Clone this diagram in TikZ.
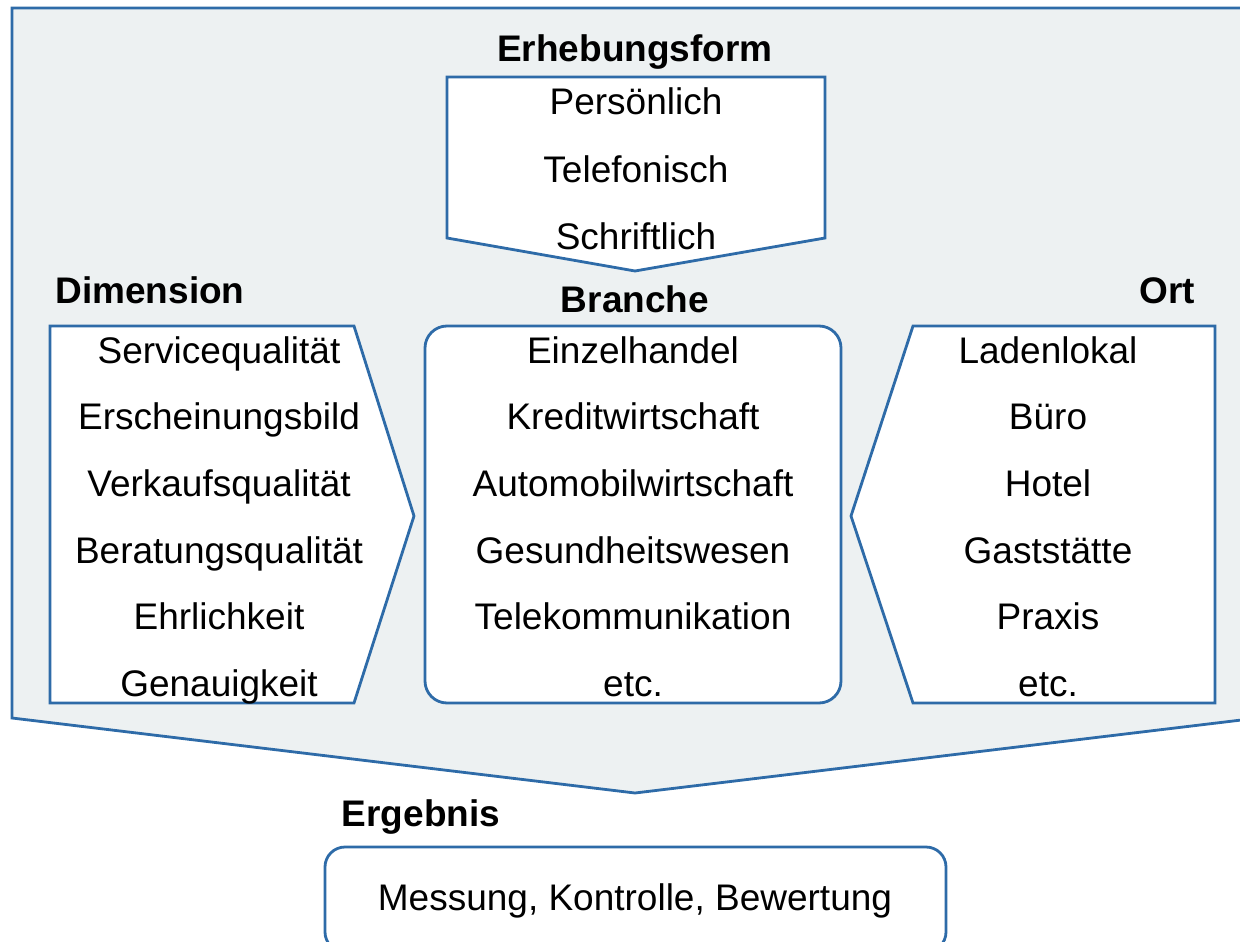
\documentclass[tikz,border=0pt]{standalone}
\usepackage{fontspec}
\setmainfont{Liberation Sans}
\definecolor{bord}{HTML}{2E6BA8}
\definecolor{bgfill}{HTML}{EDF1F2}
\tikzset{
  shapeline/.style={draw=bord, line width=2.8pt, line join=miter},
  item/.style={anchor=base, inner sep=0pt, font=\fontsize{37}{44}\selectfont},
  heading/.style={anchor=base, inner sep=0pt, font=\fontsize{37}{44}\selectfont\bfseries},
}
\begin{document}
\begin{tikzpicture}[x=1pt,y=-1pt]
\useasboundingbox (0,0) rectangle (1240,942);
\clip (0,0) rectangle (1240,942);
% background arrow
\path[shapeline, fill=bgfill] (12,8) -- (1258,8) -- (1258,718) -- (635,793) -- (12,718) -- cycle;
% Erhebungsform shape
\path[shapeline, fill=white] (447,77) -- (825,77) -- (825,238) -- (635,271) -- (447,238) -- cycle;
% Dimension shape
\path[shapeline, fill=white] (50,326) -- (354,326) -- (414,516) -- (354,703) -- (50,703) -- cycle;
% Branche box
\path[shapeline, fill=white, rounded corners=22pt] (425,326) rectangle (841,703);
% Ort shape
\path[shapeline, fill=white] (1215,326) -- (913,326) -- (851,516) -- (913,703) -- (1215,703) -- cycle;
% Ergebnis box
\path[shapeline, fill=white, rounded corners=20pt] (325,847) rectangle (946,952);

% headings
\node[heading] (hErh) at (635,62) {Erhebungsform};
\node[heading] (hDim) at (150,303) {Dimension};
\node[heading] (hBra) at (635,312) {Branche};
\node[heading] (hOrt) at (1167,303) {Ort};
\node[heading] (hErg) at (421,826) {Ergebnis};

% Erhebungsform items
\node[item] (e1) at (636,114) {Persönlich};
\node[item] (e2) at (636,182) {Telefonisch};
\node[item] (e3) at (636,249) {Schriftlich};

% Dimension items
\node[item] (d1) at (219,363) {Servicequalität};
\node[item] (d2) at (219,429) {Erscheinungsbild};
\node[item] (d3) at (219,496) {Verkaufsqualität};
\node[item] (d4) at (219,563) {Beratungsqualität};
\node[item] (d5) at (219,629) {Ehrlichkeit};
\node[item] (d6) at (219,696) {Genauigkeit};

% Branche items
\node[item] (b1) at (633,363) {Einzelhandel};
\node[item] (b2) at (633,429) {Kreditwirtschaft};
\node[item] (b3) at (633,496) {Automobilwirtschaft};
\node[item] (b4) at (633,563) {Gesundheitswesen};
\node[item] (b5) at (633,629) {Telekommunikation};
\node[item] (b6) at (633,696) {etc.};

% Ort items
\node[item] (o1) at (1048,363) {Ladenlokal};
\node[item] (o2) at (1048,429) {Büro};
\node[item] (o3) at (1048,496) {Hotel};
\node[item] (o4) at (1048,563) {Gaststätte};
\node[item] (o5) at (1048,629) {Praxis};
\node[item] (o6) at (1048,696) {etc.};

% Ergebnis
\node[item] (r1) at (635,910) {Messung, Kontrolle, Bewertung};
\end{tikzpicture}
\end{document}
